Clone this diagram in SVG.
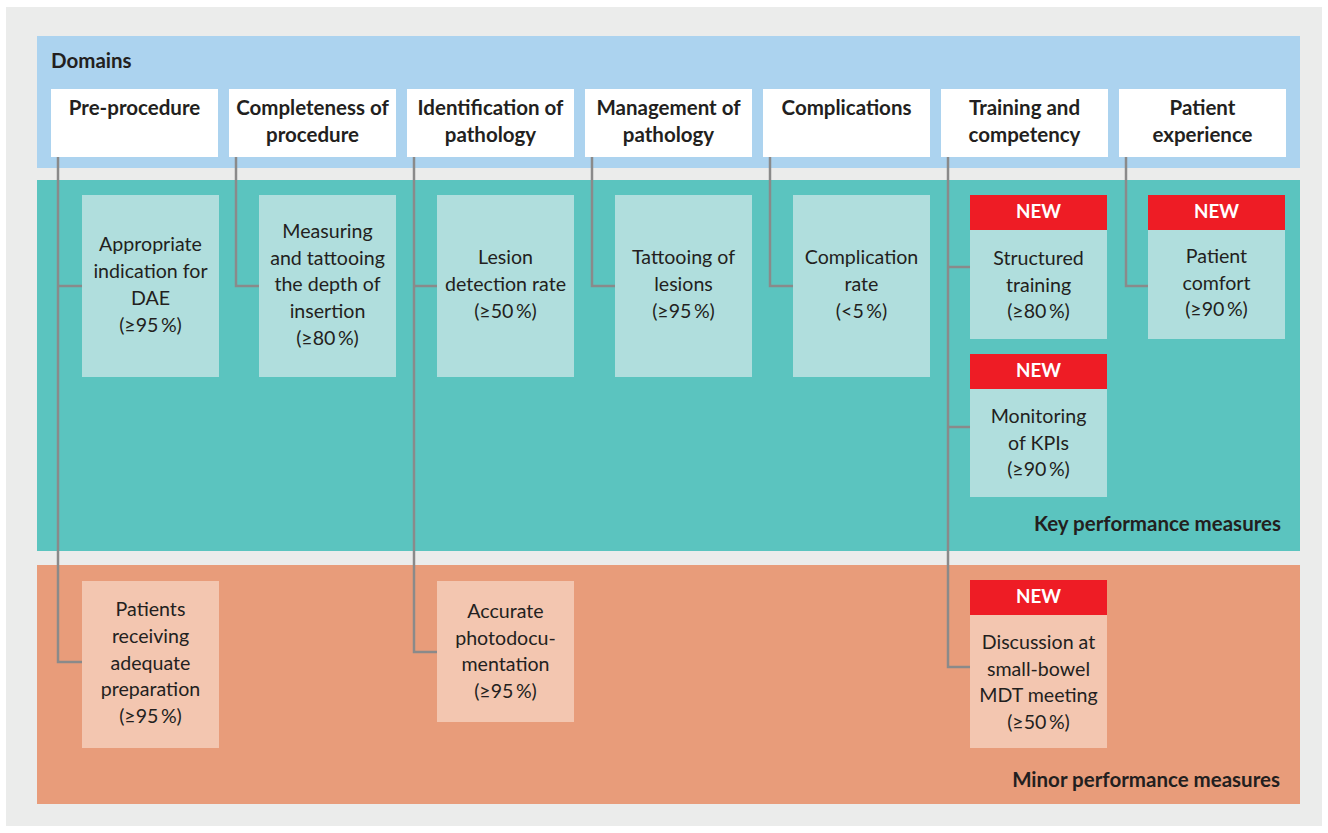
<svg xmlns="http://www.w3.org/2000/svg" width="1328" height="833" viewBox="0 0 1328 833">
<style>
text{font-family:Lato,"Liberation Sans",sans-serif;font-size:19.6px;fill:#231f20}
.b{font-weight:bold;font-size:20.5px}
.c{text-anchor:middle}
.r{text-anchor:end}
.w{fill:#ffffff;font-weight:bold;text-anchor:middle;font-size:18.8px}
.dom{fill:#ffffff}
.kt{fill:#b0dedd}
.mo{fill:#f3c6b0}
.new{fill:#ee1c25}
.con{fill:none;stroke:#8a8a8a;stroke-width:2.5}
</style>
<rect width="1328" height="833" fill="#ffffff"/>
<rect x="6" y="7" width="1316" height="819" fill="#ebeceb"/>
<rect x="37" y="36" width="1263" height="132" fill="#acd3ef"/>
<rect x="37" y="180" width="1263" height="371" fill="#5bc4bf"/>
<rect x="37" y="565" width="1263" height="239" fill="#e89c7a"/>
<text class="b" x="51" y="68">Domains</text>
<text class="b r" x="1281" y="531">Key performance measures</text>
<text class="b r" x="1280" y="787">Minor performance measures</text>

<g id="connectors">
<path class="con" d="M58 157V662H82M58 286H82"/>
<path class="con" d="M236 157V286H259"/>
<path class="con" d="M414 157V652H437M414 286H437"/>
<path class="con" d="M592 157V286H615"/>
<path class="con" d="M770 157V286H793"/>
<path class="con" d="M948 157V667H970M948 267H970M948 427H970"/>
<path class="con" d="M1126 157V286H1148"/>
</g>

<g id="d1"><rect class="dom" x="51" y="89" width="167" height="68"/><text class="b c" x="134.5" y="115">Pre-procedure</text></g>
<g id="d2"><rect class="dom" x="229" y="89" width="167" height="68"/><text class="b c" x="312.5" y="115">Completeness of</text><text class="b c" x="312.5" y="142">procedure</text></g>
<g id="d3"><rect class="dom" x="407" y="89" width="167" height="68"/><text class="b c" x="490.5" y="115">Identification of</text><text class="b c" x="490.5" y="142">pathology</text></g>
<g id="d4"><rect class="dom" x="585" y="89" width="167" height="68"/><text class="b c" x="668.5" y="115">Management of</text><text class="b c" x="668.5" y="142">pathology</text></g>
<g id="d5"><rect class="dom" x="763" y="89" width="167" height="68"/><text class="b c" x="846.5" y="115">Complications</text></g>
<g id="d6"><rect class="dom" x="941" y="89" width="167" height="68"/><text class="b c" x="1024.5" y="115">Training and</text><text class="b c" x="1024.5" y="142">competency</text></g>
<g id="d7"><rect class="dom" x="1119" y="89" width="167" height="68"/><text class="b c" x="1202.5" y="115">Patient</text><text class="b c" x="1202.5" y="142">experience</text></g>

<g id="k1"><rect class="kt" x="82" y="195" width="137" height="182"/>
<text class="c" x="150.5" y="251">Appropriate</text><text class="c" x="150.5" y="278">indication for</text><text class="c" x="150.5" y="305">DAE</text><text class="c" x="150.5" y="332">(≥95&#8201;%)</text></g>
<g id="k2"><rect class="kt" x="259" y="195" width="137" height="182"/>
<text class="c" x="327.5" y="238">Measuring</text><text class="c" x="327.5" y="265">and tattooing</text><text class="c" x="327.5" y="291">the depth of</text><text class="c" x="327.5" y="318">insertion</text><text class="c" x="327.5" y="345">(≥80&#8201;%)</text></g>
<g id="k3"><rect class="kt" x="437" y="195" width="137" height="182"/>
<text class="c" x="505.5" y="264">Lesion</text><text class="c" x="505.5" y="291">detection rate</text><text class="c" x="505.5" y="318">(≥50&#8201;%)</text></g>
<g id="k4"><rect class="kt" x="615" y="195" width="137" height="182"/>
<text class="c" x="683.5" y="264">Tattooing of</text><text class="c" x="683.5" y="291">lesions</text><text class="c" x="683.5" y="318">(≥95&#8201;%)</text></g>
<g id="k5"><rect class="kt" x="793" y="195" width="137" height="182"/>
<text class="c" x="861.5" y="264">Complication</text><text class="c" x="861.5" y="291">rate</text><text class="c" x="861.5" y="318">(&lt;5&#8201;%)</text></g>
<g id="k6"><rect class="kt" x="970" y="195" width="137" height="144"/><rect class="new" x="970" y="195" width="137" height="35"/>
<text class="w" x="1038.5" y="218">NEW</text>
<text class="c" x="1038.5" y="265">Structured</text><text class="c" x="1038.5" y="292">training</text><text class="c" x="1038.5" y="318">(≥80&#8201;%)</text></g>
<g id="k7"><rect class="kt" x="1148" y="195" width="137" height="144"/><rect class="new" x="1148" y="195" width="137" height="35"/>
<text class="w" x="1216.5" y="218">NEW</text>
<text class="c" x="1216.5" y="263">Patient</text><text class="c" x="1216.5" y="290">comfort</text><text class="c" x="1216.5" y="316">(≥90&#8201;%)</text></g>
<g id="k8"><rect class="kt" x="970" y="354" width="137" height="143"/><rect class="new" x="970" y="354" width="137" height="35"/>
<text class="w" x="1038.5" y="377">NEW</text>
<text class="c" x="1038.5" y="423">Monitoring</text><text class="c" x="1038.5" y="450">of KPIs</text><text class="c" x="1038.5" y="476">(≥90&#8201;%)</text></g>

<g id="m1"><rect class="mo" x="82" y="581" width="137" height="167"/>
<text class="c" x="150.5" y="616">Patients</text><text class="c" x="150.5" y="643">receiving</text><text class="c" x="150.5" y="670">adequate</text><text class="c" x="150.5" y="696">preparation</text><text class="c" x="150.5" y="723">(≥95&#8201;%)</text></g>
<g id="m2"><rect class="mo" x="437" y="581" width="137" height="141"/>
<text class="c" x="505.5" y="618">Accurate</text><text class="c" x="505.5" y="645">photodocu-</text><text class="c" x="505.5" y="671">mentation</text><text class="c" x="505.5" y="698">(≥95&#8201;%)</text></g>
<g id="m3"><rect class="mo" x="970" y="580" width="137" height="168"/><rect class="new" x="970" y="580" width="137" height="35"/>
<text class="w" x="1038.5" y="603">NEW</text>
<text class="c" x="1038.5" y="649">Discussion at</text><text class="c" x="1038.5" y="676">small-bowel</text><text class="c" x="1038.5" y="702">MDT meeting</text><text class="c" x="1038.5" y="729">(≥50&#8201;%)</text></g>
</svg>
